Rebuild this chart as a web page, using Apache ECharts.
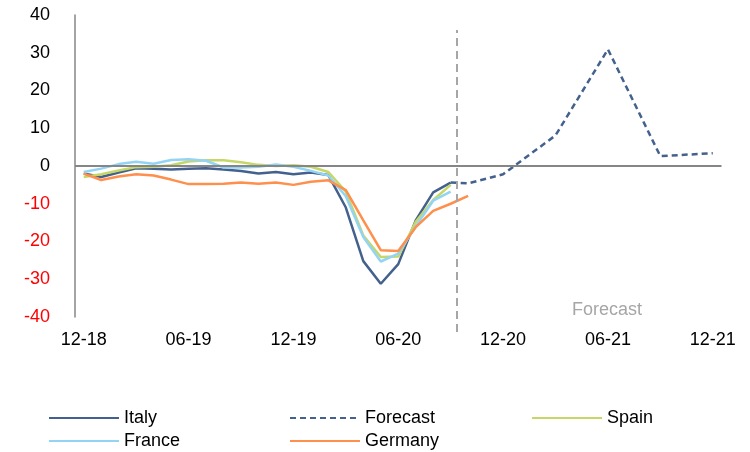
<!DOCTYPE html>
<html>
<head>
<meta charset="utf-8">
<script src="https://cdn.jsdelivr.net/npm/echarts@6/dist/echarts.min.js"></script>
<style>html,body{margin:0;padding:0;background:#fff}#c{width:750px;height:452px}</style>
</head>
<body>
<div id="c"></div>
<script>
var months = ['12-18','01-19','02-19','03-19','04-19','05-19','06-19','07-19','08-19','09-19','10-19','11-19',
  '12-19','01-20','02-20','03-20','04-20','05-20','06-20','07-20','08-20','09-20','10-20','11-20',
  '12-20','01-21','02-21','03-21','04-21','05-21','06-21','07-21','08-21','09-21','10-21','11-21','12-21'];
var italy = [-2.0,-2.9,-1.7,-0.6,-0.7,-0.9,-0.7,-0.6,-0.9,-1.3,-2.0,-1.6,-2.2,-1.7,-2.4,-11.0,-25.2,-31.2,-26.0,-14.4,-7.0,-4.4];
var spain = [-2.9,-2.2,-1.2,-0.3,-0.2,0.2,1.2,1.5,1.5,1.0,0.3,0.0,0.2,-0.2,-1.6,-6.8,-18.4,-24.1,-24.0,-14.8,-9.0,-5.0];
var france = [-1.6,-0.7,0.5,1.1,0.6,1.6,1.8,1.4,-0.4,-0.4,-0.2,0.4,-0.2,-1.3,-2.5,-8.0,-18.8,-25.3,-23.2,-16.0,-9.2,-6.8];
var germany = [-2.0,-3.7,-2.8,-2.2,-2.5,-3.6,-4.8,-4.8,-4.7,-4.4,-4.7,-4.4,-5.0,-4.2,-3.8,-6.4,-14.4,-22.3,-22.5,-16.2,-11.9,-10.0,-7.9];
var forecast = [null,null,null,null,null,null,null,null,null,null,null,null,null,null,null,null,null,null,null,null,null,
  -4.4,-4.6,null,-2.2,null,null,8.1,null,null,30.9,null,null,2.6,null,null,3.4];
var forecastStart = 21.35;
var yMin = -40, yMax = 40, yStep = 10;

var FONT = '"Liberation Sans", Arial, sans-serif';
var chart = echarts.init(document.getElementById('c'));
var legendText = {fontSize: 18, color: '#000', fontFamily: FONT, lineHeight: 18};
var legendBase = {orient: 'vertical', top: 409, itemWidth: 70, itemHeight: 14, itemGap: 5,
  textStyle: legendText, padding: 0, itemStyle: {opacity: 0}};
function lineSeries(name, data, color, dash) {
  return {
    name: name, type: 'line', data: data, symbol: 'none', connectNulls: true,
    lineStyle: {color: color, width: 2.5, type: dash || 'solid'},
    itemStyle: {color: color}, z: 3, animation: false
  };
}
chart.setOption({
  animation: false,
  textStyle: {fontFamily: FONT},
  grid: [
    {left: 75, right: 28.5, top: 15, bottom: 135},
    {left: 75, right: 28.5, top: 30, bottom: 120}
  ],
  legend: [
    Object.assign({data: ['Italy', 'France'], left: 48}, legendBase),
    Object.assign({data: ['Forecast', 'Germany'], left: 289}, legendBase),
    Object.assign({data: ['Spain'], left: 531}, legendBase)
  ],
  xAxis: [
    {type: 'category', data: months, boundaryGap: true, gridIndex: 0,
     axisLine: {show: false}, axisTick: {show: false},
     axisLabel: {interval: 5, fontSize: 18, color: '#000', margin: 14, fontFamily: FONT},
     splitLine: {show: false}},
    {type: 'value', gridIndex: 1, min: -0.5, max: months.length - 0.5, show: false}
  ],
  yAxis: [
    {type: 'value', min: yMin, max: yMax, interval: yStep, gridIndex: 0,
     axisLine: {show: true, lineStyle: {color: '#868686', width: 1.5}},
     axisTick: {show: false}, splitLine: {show: false},
     axisLabel: {fontSize: 18, margin: 25, fontFamily: FONT,
       formatter: function (v) { return v < 0 ? '{r|' + v + '}' : '{k|' + v + '}'; },
       rich: {r: {color: '#ff0000', fontSize: 18, fontFamily: FONT}, k: {color: '#000', fontSize: 18, fontFamily: FONT}}}},
    {type: 'value', gridIndex: 1, min: 0, max: 1, show: false}
  ],
  graphic: [
    {type: 'text', left: 572, top: 301, style: {text: 'Forecast', fontSize: 18, fill: '#a6a6a6', fontFamily: FONT}}
  ],
  series: [
    {name: 'zero', type: 'line', data: [], xAxisIndex: 0, yAxisIndex: 0, z: 1,
     markLine: {silent: true, symbol: ['none', 'none'], label: {show: false},
       lineStyle: {color: '#868686', width: 2, type: 'solid'}, data: [{yAxis: 0}]}},
    {name: 'divider', type: 'line', data: [], xAxisIndex: 1, yAxisIndex: 1, z: 1,
     markLine: {silent: true, symbol: ['none', 'none'], label: {show: false},
       lineStyle: {color: '#a6a6a6', width: 2, type: [8, 5]}, data: [{xAxis: forecastStart}]}},
    lineSeries('Italy', italy, '#44618d'),
    lineSeries('Forecast', forecast, '#44618d', [6, 4]),
    lineSeries('Spain', spain, '#c5d867'),
    lineSeries('France', france, '#93d4f4'),
    lineSeries('Germany', germany, '#ff8f4d')
  ]
});
</script>
</body>
</html>
